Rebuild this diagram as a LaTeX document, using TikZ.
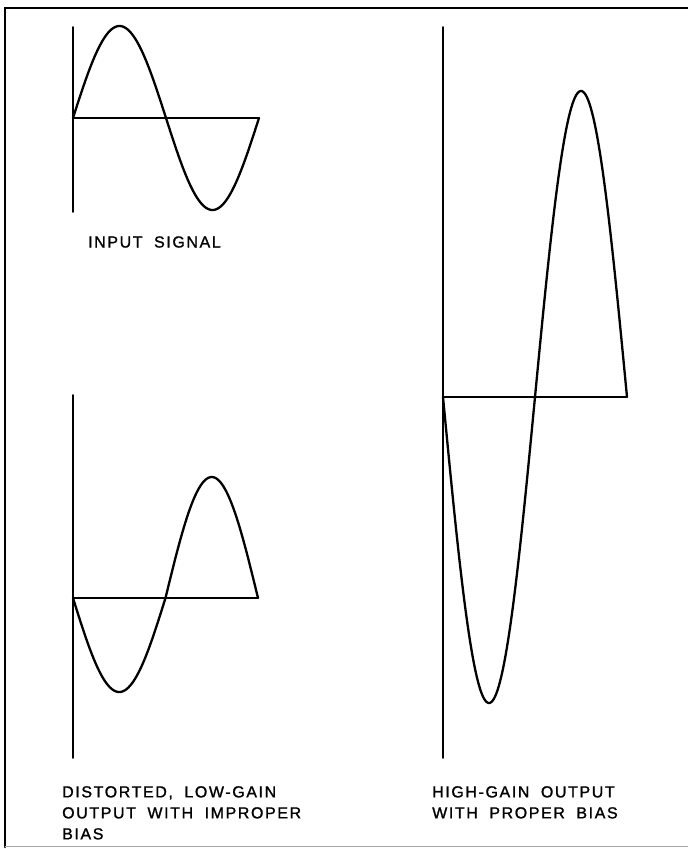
\documentclass[tikz,border=0pt]{standalone}
\usepackage{fontspec}
\setmainfont{Liberation Sans}[LetterSpace=10,WordSpace=1.9,FakeBold=1.2]
\usetikzlibrary{positioning}

\begin{document}
\begin{tikzpicture}[x=1pt,y=-1pt,line cap=round]
\tikzstyle{axis}=[line width=1.9pt]
\tikzstyle{wave}=[line width=2.3pt,line join=round]
\tikzstyle{lbl}=[inner sep=0pt,align=left,font=\fontsize{16}{21}\selectfont]
\useasboundingbox (0,0) rectangle (688,849);
% frame
\draw[line width=2.6pt] (690,8) -- (5,8) -- (5,847);
\draw[line width=0.6pt,black!35] (5,846) -- (688,846);
% input signal
\coordinate (in0) at (73,118);
\draw[axis] (73,27) -- (73,212);
\draw[axis] (in0) -- (259,118);
\draw[wave] plot[domain=0:360,samples=121] ({73+\x/360*186},{118-92*sin(\x)});
\node[lbl,anchor=west] (inlbl) at (88,242) {INPUT SIGNAL};
% distorted output
\coordinate (lo0) at (73,598);
\draw[axis] (73,395) -- (73,758);
\draw[axis] (lo0) -- (258,598);
\draw[wave] plot[domain=0:360,samples=121] ({73+\x/360*185},{598+((\x<180)?94:121)*sin(\x)});
\node[lbl,anchor=north west] (lolbl) at (62,786) {DISTORTED, LOW-GAIN\\OUTPUT WITH IMPROPER\\BIAS};
% high-gain output
\coordinate (hi0) at (443,397);
\draw[axis] (443,27) -- (443,758);
\draw[axis] (hi0) -- (627,397);
\draw[wave] plot[domain=0:360,samples=241] ({443+\x/360*184},{397+306*sin(\x)});
\node[lbl,anchor=north west] (hilbl) at (432,786) {HIGH-GAIN OUTPUT\\WITH PROPER BIAS};
\end{tikzpicture}
\end{document}
